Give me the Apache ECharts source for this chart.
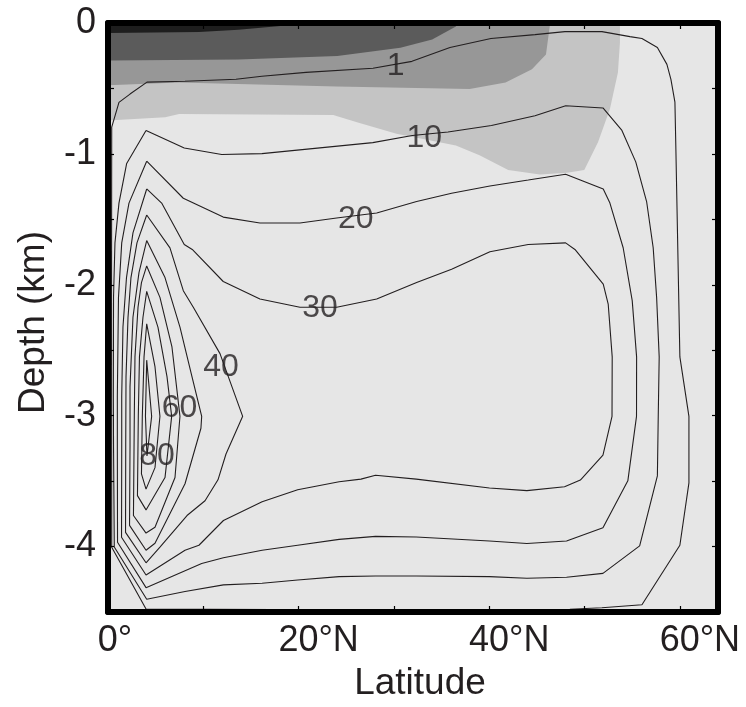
<!DOCTYPE html>
<html>
<head>
<meta charset="utf-8">
<script src="https://cdn.jsdelivr.net/npm/echarts@6/dist/echarts.min.js"></script>
<style>
html,body{margin:0;padding:0;background:#fff;}
#chart{width:746px;height:707px;}
</style>
</head>
<body>
<div id="chart"></div>
<script>
// ---- Data (latitude in degrees N, depth in km) ----
const xTickValues = [0, 20, 40, 60];
const xTickLabels = ['0°', '20°N', '40°N', '60°N'];
const yTickValues = [0, -1, -2, -3, -4];

const contourLevels = [1, 10, 20, 30, 40, 50, 60, 70, 80, 90];

const c1 = [[0.39,-0.795],[1.15,-0.606],[2.31,-0.543],[4.09,-0.452],[8.08,-0.445],[13.43,-0.430],[16.15,-0.407],[20.77,-0.377],[27.80,-0.346],[31.89,-0.293],[35.88,-0.187],[40.18,-0.119],[44.80,-0.089],[47.94,-0.066],[51.82,-0.066],[54.76,-0.104],[56.02,-0.119],[57.64,-0.187],[58.64,-0.316],[59.06,-0.430],[59.48,-0.604],[59.58,-0.960],[60.0,-2.551],[60.95,-3.005],[60.95,-3.513],[60.0,-3.990],[56.02,-4.445],[51.82,-4.467],[48.46,-4.479],[30.63,-4.486],[3.99,-4.477],[0.39,-4.005],[0.37,-2.096]];
const c10 = [[3.99,-0.821],[8.00,-0.955],[11.93,-1.005],[16.15,-0.998],[27.78,-0.914],[31.93,-0.859],[35.67,-0.833],[40.23,-0.783],[44.80,-0.708],[48.02,-0.632],[51.93,-0.649],[53.92,-0.821],[55.37,-1.061],[56.51,-1.364],[57.20,-1.717],[57.56,-2.096],[57.83,-2.551],[57.73,-3.005],[57.64,-3.460],[55.78,-3.995],[51.93,-4.205],[48.11,-4.235],[43.95,-4.242],[40.02,-4.230],[32.34,-4.225],[28.07,-4.225],[24.25,-4.230],[19.90,-4.255],[16.17,-4.280],[12.11,-4.293],[8.08,-4.344],[4.06,-4.402],[0.66,-4.003],[0.58,-3.233],[0.56,-2.854],[0.58,-2.096],[0.73,-1.680],[1.15,-1.376],[1.96,-1.073]];
const c20 = [[4.06,-1.056],[7.90,-1.339],[12.09,-1.483],[15.94,-1.528],[20.14,-1.528],[23.99,-1.490],[28.19,-1.452],[32.38,-1.364],[36.05,-1.301],[40.07,-1.245],[44.09,-1.200],[48.01,-1.155],[51.96,-1.268],[52.66,-1.376],[54.05,-1.717],[55.00,-2.121],[55.46,-2.551],[55.45,-3.005],[54.54,-3.498],[51.93,-3.856],[48.11,-3.958],[43.95,-3.977],[40.02,-3.958],[32.34,-3.927],[28.07,-3.922],[24.25,-3.945],[19.90,-3.990],[16.17,-4.028],[12.11,-4.086],[9.83,-4.129],[3.99,-4.314],[1.00,-3.967],[0.98,-3.233],[0.98,-2.854],[1.10,-2.096],[1.44,-1.680],[2.20,-1.376]];
const c30 = [[4.06,-1.268],[5.63,-1.376],[8.00,-1.692],[8.84,-1.730],[12.09,-1.975],[15.94,-2.109],[20.14,-2.172],[23.99,-2.172],[28.19,-2.109],[32.38,-1.983],[36.05,-1.882],[40.07,-1.748],[44.09,-1.692],[48.01,-1.680],[48.99,-1.730],[51.96,-1.995],[52.48,-2.147],[52.90,-2.551],[52.88,-3.005],[51.93,-3.301],[49.56,-3.492],[47.90,-3.543],[43.95,-3.573],[40.02,-3.553],[32.34,-3.485],[28.07,-3.455],[26.54,-3.485],[24.25,-3.505],[19.90,-3.566],[16.17,-3.657],[12.11,-3.801],[9.54,-3.990],[8.08,-4.028],[3.99,-4.217],[1.42,-3.929],[1.44,-3.233],[1.44,-2.854],[1.57,-2.323],[1.94,-1.945],[2.62,-1.604]];
const c40 = [[4.06,-1.467],[6.50,-1.718],[7.90,-2.045],[8.95,-2.172],[11.75,-2.526],[14.13,-3.005],[12.38,-3.293],[11.54,-3.490],[10.18,-3.650],[8.29,-3.763],[5.45,-4.005],[3.99,-4.124],[1.84,-3.892],[1.86,-3.233],[1.89,-2.702],[2.10,-2.248],[2.41,-1.945],[3.04,-1.680]];
const c50 = [[4.06,-1.662],[5.98,-1.945],[7.55,-2.323],[8.81,-2.702],[9.83,-3.005],[9.75,-3.096],[8.08,-3.520],[4.93,-3.975],[3.99,-4.028],[2.26,-3.838],[2.31,-3.233],[2.31,-2.778],[2.62,-2.248],[3.25,-1.907]];
const c60 = [[4.06,-1.856],[5.45,-2.096],[6.71,-2.475],[7.55,-3.005],[7.03,-3.473],[4.93,-3.852],[3.99,-3.897],[2.67,-3.763],[2.76,-3.005],[2.83,-2.551],[3.15,-2.172],[3.51,-1.983]];
const c70 = [[4.06,-2.051],[5.24,-2.323],[6.19,-2.702],[6.68,-3.005],[5.98,-3.473],[3.99,-3.720],[3.09,-3.611],[3.18,-3.005],[3.30,-2.551],[3.67,-2.248]];
const c80 = [[4.06,-2.298],[4.93,-2.626],[5.45,-3.005],[4.93,-3.397],[3.99,-3.561],[3.51,-3.445],[3.60,-3.005],[3.78,-2.551]];
const c90 = [[4.06,-2.576],[4.58,-3.005],[4.09,-3.308],[3.93,-3.005]];

// shaded bands (outer to inner)
const shadeA = [[0,0],[53.71,0],[53.71,-0.151],[53.50,-0.379],[52.66,-0.657],[51.42,-0.909],[49.97,-1.124],[48.15,-1.144],[45.32,-1.157],[41.99,-1.124],[38.98,-1.011],[36.50,-0.935],[30.27,-0.846],[26.12,-0.758],[23.63,-0.702],[7.46,-0.695],[6.00,-0.720],[0,-0.745]];
const shadeB = [[0,0],[46.39,0],[46.37,-0.013],[45.95,-0.240],[44.48,-0.354],[41.71,-0.455],[37.94,-0.505],[24.02,-0.485],[7.45,-0.455],[0,-0.475]];
const shadeC = [[0,0],[36.70,0],[36.50,-0.026],[34.01,-0.127],[30.68,-0.189],[24.05,-0.253],[13.68,-0.278],[0,-0.286]];
const shadeD = [[0,0],[19.10,0],[18.65,-0.020],[13.68,-0.051],[9.54,-0.068],[0,-0.076]];

// contour labels
const labelText  = ['1', '10', '20', '30', '40', '60', '80'];
const labelLat   = [30.17, 33.19, 25.99, 22.24, 11.85, 7.50, 5.14];
const labelDepth = [-0.303, -0.846, -1.465, -2.149, -2.602, -2.914, -3.282];

// ---- Chart ----
const contours = [c1, c10, c20, c30, c40, c50, c60, c70, c80, c90];
const shades = [[shadeA, '#c4c4c4'], [shadeB, '#979797'], [shadeC, '#5b5b5b'], [shadeD, '#1e1e1e']];
const textColor = '#231f20';
const FONT = 'Liberation Sans, Arial, Helvetica, sans-serif';

function polySeries(points, color) {
  return {
    type: 'custom', coordinateSystem: 'cartesian2d', silent: true, clip: true, z: 1,
    data: points, encode: { x: 0, y: 1 },
    renderItem: function (params, api) {
      if (params.dataIndex !== 0) return null;
      return { type: 'polygon', shape: { points: points.map(p => api.coord(p)) }, style: { fill: color } };
    }
  };
}

const series = [];
shades.forEach(s => series.push(polySeries(s[0], s[1])));
contours.forEach((c, i) => series.push({
  type: 'line', name: String(contourLevels[i]), data: c.concat([c[0]]),
  symbol: 'none', smooth: false, silent: true, z: 3,
  lineStyle: { color: textColor, width: 1.1 }
}));
series.push({
  type: 'scatter', silent: true, z: 4, symbolSize: 1,
  itemStyle: { color: 'transparent' },
  data: labelText.map((t, i) => [labelLat[i], labelDepth[i], t]),
  label: { show: true, position: 'inside', offset: [0, 4], formatter: p => p.data[2], fontSize: 32, color: textColor, fontFamily: FONT }
});

function xFmt(v) {
  const i = xTickValues.indexOf(v);
  if (i < 0) return '';
  const s = xTickLabels[i];
  const pad = s.length > 2 ? 'pN' : 'pD';
  return '{' + pad + '|}' + s;
}

const axisLineStyle = { show: true, onZero: false, lineStyle: { color: '#000', width: 6 } };
const tickStyle = { show: true, inside: true, length: 6, lineStyle: { color: '#000', width: 1.2 } };

const option = {
  animation: false,
  backgroundColor: '#fff',
  grid: { left: 108, right: 28, top: 23, bottom: 90, show: true, backgroundColor: '#e6e6e6', borderWidth: 0 },
  xAxis: [
    { type: 'value', min: 0, max: 64, interval: 10, position: 'bottom', z: 10,
      axisLine: axisLineStyle, axisTick: tickStyle, splitLine: { show: false },
      axisLabel: { formatter: xFmt, fontSize: 36, color: textColor, fontFamily: FONT, margin: 11, showMaxLabel: false,
        rich: { pD: { width: 14 }, pN: { width: 40 } } },
      name: 'Latitude', nameLocation: 'middle', nameGap: 53, nameMoveOverlap: false,
      nameTextStyle: { fontSize: 37, color: textColor, fontFamily: FONT, padding: [0, 0, 0, 14] } },
    { type: 'value', min: 0, max: 64, interval: 10, position: 'top', z: 10,
      axisLine: axisLineStyle, axisTick: tickStyle, splitLine: { show: false }, axisLabel: { show: false } }
  ],
  yAxis: [
    { type: 'value', min: -4.5, max: 0, interval: 0.5, position: 'left', z: 10,
      axisLine: axisLineStyle, axisTick: tickStyle, splitLine: { show: false },
      axisLabel: { formatter: v => (yTickValues.indexOf(v) >= 0 ? String(v === 0 ? 0 : v) : ''), fontSize: 36,
        color: textColor, fontFamily: FONT, margin: 12, padding: [6, 0, 0, 0] },
      name: 'Depth (km)', nameLocation: 'middle', nameGap: 56, nameRotate: 90, nameMoveOverlap: false,
      nameTextStyle: { fontSize: 37, color: textColor, fontFamily: FONT, padding: [0, 10, 0, 0] } },
    { type: 'value', min: -4.5, max: 0, interval: 0.5, position: 'right', z: 10,
      axisLine: axisLineStyle, axisTick: tickStyle, splitLine: { show: false }, axisLabel: { show: false } }
  ],
  series: series
};

const chart = echarts.init(document.getElementById('chart'), null, { renderer: 'canvas' });
chart.setOption(option);
</script>
</body>
</html>
